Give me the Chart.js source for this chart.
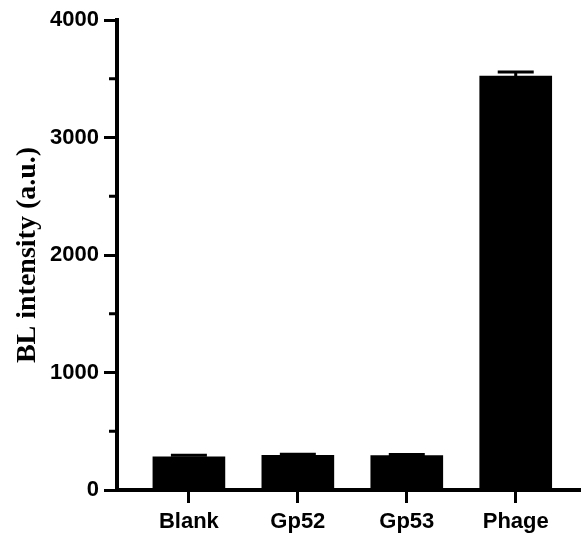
<!DOCTYPE html>
<html>
<head>
<meta charset="utf-8">
<script src="https://cdn.jsdelivr.net/npm/chart.js@4"></script>
<style>
  html, body { margin: 0; padding: 0; background: #fff; }
  #wrap { width: 581px; height: 536px; }
</style>
</head>
<body>
<div id="wrap"><canvas id="bar-chart"></canvas></div>
<script>
// data
const categories = ['Blank', 'Gp52', 'Gp53', 'Phage'];
const means = [283, 295, 293, 3523];
const errors = [12, 10, 10, 35];
const yTicks = [0, 1000, 2000, 3000, 4000];

const ctx2 = document.getElementById('bar-chart');

// upward error bars with caps
const errorBars = {
  id: 'errorBars',
  afterDatasetsDraw(chart) {
    const c = chart.ctx;
    const y = chart.scales.y;
    const meta = chart.getDatasetMeta(0);
    c.save();
    c.strokeStyle = '#000';
    c.lineWidth = 3;
    meta.data.forEach(function(bar, i) {
      const top = y.getPixelForValue(means[i] + errors[i]);
      const base = y.getPixelForValue(means[i]);
      c.beginPath();
      c.moveTo(bar.x, base);
      c.lineTo(bar.x, top);
      c.moveTo(bar.x - 18, top);
      c.lineTo(bar.x + 18, top);
      c.stroke();
    });
    c.restore();
  }
};

// minor ticks halfway between the labelled ones
const minorTicks = {
  id: 'minorTicks',
  afterDraw(chart) {
    const c = chart.ctx;
    const y = chart.scales.y;
    const left = chart.chartArea.left;
    c.save();
    c.strokeStyle = '#000';
    c.lineWidth = 3;
    for (let i = 0; i < yTicks.length - 1; i++) {
      const py = y.getPixelForValue((yTicks[i] + yTicks[i + 1]) / 2);
      c.beginPath();
      c.moveTo(left - 8, py);
      c.lineTo(left, py);
      c.stroke();
    }
    c.restore();
  }
};

const data = {
  datasets: [{
    data: categories.map(function(c, i) { return { x: i + 1, y: means[i] }; }),
    backgroundColor: '#000',
    borderColor: '#000',
    borderWidth: 0,
    barThickness: 72
  }]
};

const config = {
  type: 'bar',
  data: data,
  options: {
    responsive: true,
    maintainAspectRatio: false,
    animation: false,
    layout: { padding: { top: 20, right: 1, left: 0, bottom: 0 } },
    plugins: { legend: { display: false }, tooltip: { enabled: false } },
    scales: {
      x: {
        type: 'linear',
        offset: false,
        min: 0.34,
        max: 4.59,
        afterBuildTicks: function(scale) {
          scale.ticks = categories.map(function(c, i) { return { value: i + 1 }; });
        },
        afterFit: function(scale) { scale.height = 46; },
        ticks: {
          color: '#000',
          padding: 6,
          maxRotation: 0,
          autoSkip: false,
          font: { family: 'Liberation Sans, Arial, sans-serif', size: 22, weight: 'bold' },
          callback: function(value) { return categories[value - 1]; }
        },
        grid: {
          offset: false,
          drawOnChartArea: false,
          tickLength: 13,
          tickWidth: 3,
          tickColor: '#000'
        },
        border: { color: '#000', width: 4 }
      },
      y: {
        min: 0,
        max: 4000,
        afterBuildTicks: function(scale) {
          scale.ticks = yTicks.map(function(v) { return { value: v }; });
        },
        afterFit: function(scale) { scale.width = 117; },
        ticks: {
          color: '#000',
          padding: 5,
          font: { family: 'Liberation Sans, Arial, sans-serif', size: 22, weight: 'bold' },
          callback: function(value) { return String(value); }
        },
        grid: {
          drawOnChartArea: false,
          tickLength: 13,
          tickWidth: 3,
          tickColor: '#000'
        },
        border: { color: '#000', width: 4 },
        title: {
          display: true,
          text: 'BL intensity (a.u.)',
          color: '#000',
          padding: { top: 11, bottom: 0 },
          font: { family: 'Liberation Serif, Times New Roman, serif', size: 28, weight: 'bold' }
        }
      }
    }
  },
  plugins: [errorBars, minorTicks]
};

var chart2 = new Chart(ctx2, config);
</script>
</body>
</html>
